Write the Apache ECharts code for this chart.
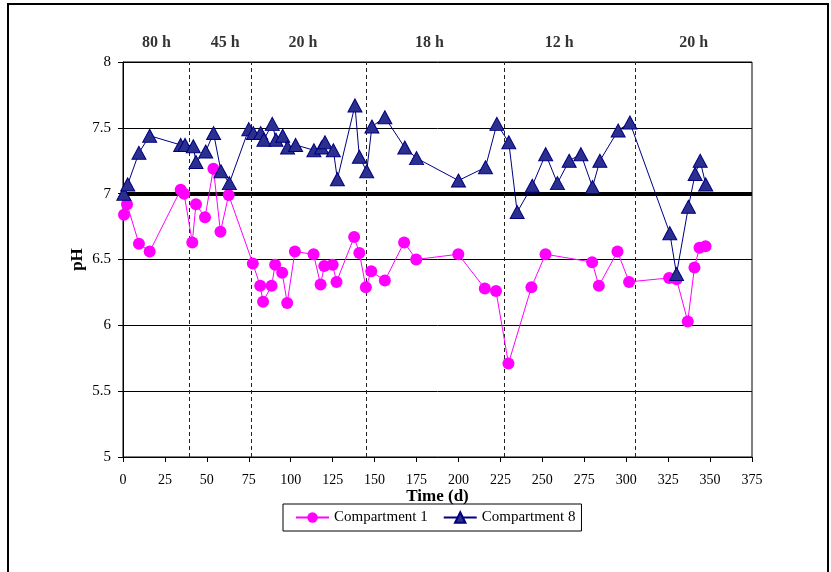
<!DOCTYPE html>
<html>
<head>
<meta charset="utf-8">
<script src="https://cdn.jsdelivr.net/npm/echarts@6/dist/echarts.min.js"></script>
<style>
html,body{margin:0;padding:0;background:#fff;}
#chart{width:831px;height:572px;}
</style>
</head>
<body>
<div id="chart"></div>
<script>
// Time (d) and pH readings
const days1 = [0.6,2.4,9.5,15.9,34.4,36.4,41.3,43.5,48.9,53.9,58.1,63,77.4,81.8,83.5,88.6,90.7,94.9,97.9,102.5,113.6,117.8,120,125,127.3,137.8,140.9,144.8,148,156.1,167.6,174.8,199.9,215.7,222.4,229.8,243.5,251.9,279.7,283.7,294.8,301.7,325.6,330,336.7,340.7,343.7,347.3];
const ph1 = [6.84,6.92,6.62,6.56,7.03,7.00,6.63,6.92,6.82,7.19,6.71,6.99,6.47,6.30,6.18,6.30,6.46,6.40,6.17,6.56,6.54,6.31,6.45,6.46,6.33,6.67,6.55,6.29,6.41,6.34,6.63,6.50,6.54,6.28,6.26,5.71,6.29,6.54,6.48,6.30,6.56,6.33,6.36,6.35,6.03,6.44,6.59,6.60];
const days8 = [0.5,2.8,9.5,15.9,34.4,37,41.9,43.5,49.3,54,58.4,63.4,75,77.7,82.1,84,89,91.2,95.2,98.1,102.9,113.8,118.4,120.4,125.4,127.8,138.3,140.9,145.3,148.4,156.1,168,175,200,216.1,222.9,230,235,244,252,259,266,273,279.9,284.3,295.2,302.2,326,330,337.1,341.1,344.1,347.4];
const ph8 = [7.00,7.07,7.31,7.44,7.37,7.37,7.36,7.24,7.32,7.46,7.17,7.08,7.49,7.46,7.46,7.41,7.53,7.41,7.44,7.35,7.37,7.33,7.35,7.39,7.33,7.11,7.67,7.28,7.17,7.51,7.58,7.35,7.27,7.10,7.20,7.53,7.39,6.86,7.06,7.30,7.08,7.25,7.30,7.05,7.25,7.48,7.54,6.70,6.39,6.90,7.15,7.25,7.07];
// regime boundaries (d) and labels
const boundaries = [39.5,76.5,145,227,305.5];
const regimeLabels = ['80 h','45 h','20 h','18 h','12 h','20 h'];
const regimeCenters = [20,61,107.3,182.7,260,340.3];
const referencePH = 7;
const xMin = 0, xMax = 375, xStep = 25;
const yMin = 5, yMax = 8, yStep = 0.5;

const FONT = '"Liberation Serif","Times New Roman",serif';
const chart = echarts.init(document.getElementById('chart'));
const zip = (a,b)=>a.map((v,i)=>[v,b[i]]);

chart.setOption({
  animation:false,
  backgroundColor:'#fff',
  graphic:[{type:'rect',shape:{x:8,y:4,width:820,height:600},style:{fill:'none',stroke:'#000',lineWidth:2},silent:true}],
  grid:{left:123,right:79,top:62,bottom:115,show:true,borderColor:'#000',borderWidth:1,backgroundColor:'transparent'},
  legend:{
    left:283, top:504, padding:[6,6,6,12], itemGap:15,
    borderColor:'#000', borderWidth:1, itemWidth:33, itemHeight:13,
    textStyle:{fontFamily:FONT,fontSize:15,color:'#000'},
    data:['Compartment 1','Compartment 8']
  },
  xAxis:{
    type:'value', min:xMin, max:xMax, interval:xStep,
    name:'Time (d)', nameLocation:'middle', nameGap:31, nameMoveOverlap:false,
    nameTextStyle:{fontFamily:FONT,fontSize:17,fontWeight:'bold',color:'#000'},
    axisLine:{lineStyle:{color:'#000',width:1}},
    axisTick:{show:true,length:5,lineStyle:{color:'#000'}},
    axisLabel:{fontFamily:FONT,fontSize:14,color:'#000',margin:16},
    splitLine:{show:false}
  },
  yAxis:{
    type:'value', min:yMin, max:yMax, interval:yStep,
    name:'pH', nameLocation:'middle', nameGap:37, nameRotate:90, nameMoveOverlap:false,
    nameTextStyle:{fontFamily:FONT,fontSize:17,fontWeight:'bold',color:'#000'},
    axisLine:{show:true,lineStyle:{color:'#000',width:1}},
    axisTick:{show:true,length:5,lineStyle:{color:'#000'}},
    axisLabel:{fontFamily:FONT,fontSize:15,color:'#000',margin:12},
    splitLine:{show:true,lineStyle:{color:'#000',width:1}}
  },
  series:[
    {
      name:'Compartment 1', type:'line', data:zip(days1,ph1),
      symbol:'circle', symbolSize:12, z:3,
      itemStyle:{color:'#FF00FF'}, lineStyle:{color:'#FF00FF',width:1},
      markLine:{
        silent:true, symbol:'none', label:{show:false}, z:1,
        data:[
          {yAxis:referencePH, lineStyle:{color:'#000',width:4,type:'solid'}},
          ...boundaries.map(b=>({xAxis:b, lineStyle:{color:'#222',width:1,type:[4,3]}}))
        ]
      }
    },
    {
      name:'Compartment 8', type:'line', data:zip(days8,ph8),
      symbol:'triangle', symbolSize:[14,13], z:4,
      itemStyle:{color:'#2B2F8E',borderColor:'#000080',borderWidth:1}, lineStyle:{color:'#000080',width:1}
    },
    {
      name:'labels', type:'scatter', symbolSize:0, silent:true, clip:false,
      data:regimeCenters.map((c,i)=>({value:[c,yMax],label:{formatter:regimeLabels[i]}})),
      label:{show:true,position:'top',distance:11,fontFamily:FONT,fontSize:16,fontWeight:'bold',color:'#000'}
    }
  ]
});
</script>
</body>
</html>
